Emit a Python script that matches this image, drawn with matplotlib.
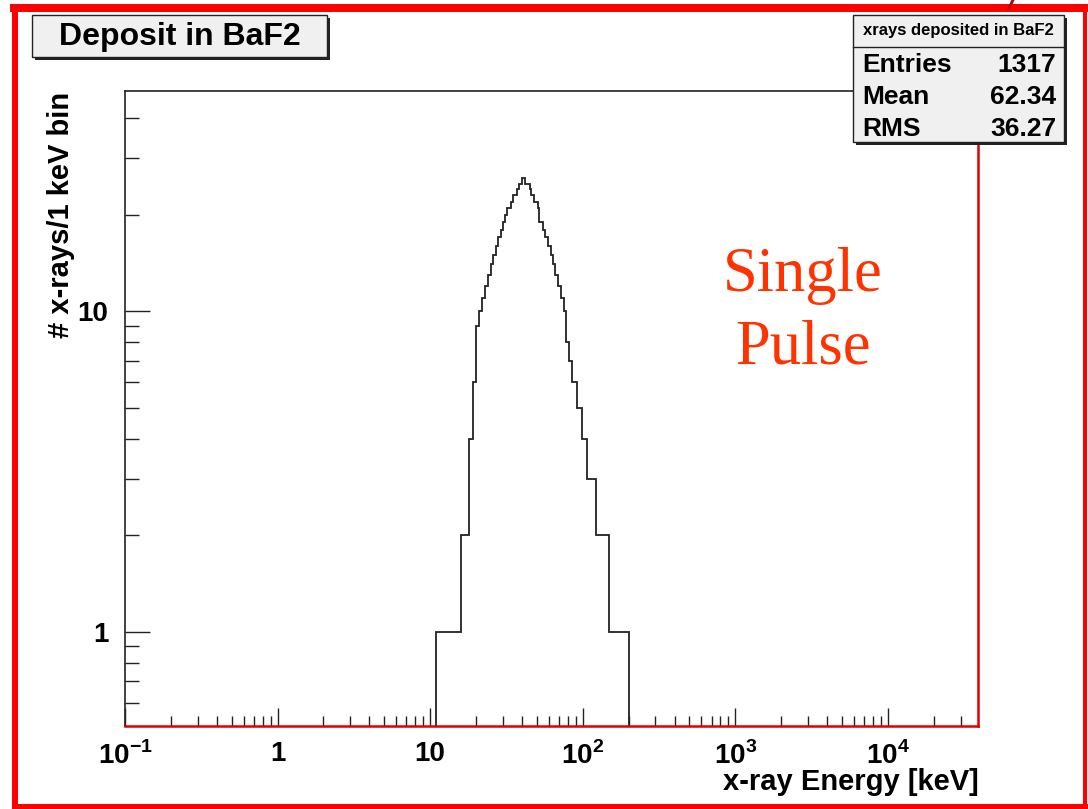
import numpy as np
import matplotlib
matplotlib.use('Agg')
import matplotlib.pyplot as plt
from matplotlib.patches import Rectangle
from matplotlib.ticker import LogLocator, FixedLocator, FixedFormatter, NullFormatter

plt.rcParams['font.family'] = ['Liberation Sans', 'DejaVu Sans']
plt.rcParams['mathtext.fontset'] = 'custom'
plt.rcParams['mathtext.rm'] = 'Liberation Sans:bold'
plt.rcParams['mathtext.bf'] = 'Liberation Sans:bold'

# histogram (bin edges in keV, counts per bin)
edges = [11, 16, 18, 19, 20, 21, 22, 23, 24, 25, 26, 27, 28, 29, 30, 31, 32, 34, 35, 37,
         38, 40, 42, 45, 46, 48, 51, 52, 55, 57, 59, 62, 64, 66, 69, 72, 75, 78, 81, 85,
         92, 99, 106, 123, 148, 202]
counts = [1, 2, 4, 6, 9, 10, 11, 12, 13, 14, 15, 16, 17, 18, 19, 20, 21, 22, 23, 24,
          25, 26, 25, 24, 23, 22, 21, 19, 18, 17, 16, 15, 14, 13, 12, 11, 10, 8, 7, 6,
          5, 4, 3, 2, 1]

x_ticks = [0.1, 1, 10, 100, 1000, 10000]
x_labels = [r'$10^{-1}$', '1', '10', r'$10^{2}$', r'$10^{3}$', r'$10^{4}$']
y_ticks = [1, 10]
y_labels = ['1', '10']

stat_names = ['Entries', 'Mean', 'RMS']
stat_values = ['1317', '62.34', '36.27']

W, H = 1088, 809
fig = plt.figure(figsize=(W / 100, H / 100), dpi=100)


def fx(x):
    return x / W


def fy(y):
    return 1 - y / H


# plot frame
ax = fig.add_axes([fx(125), fy(726), fx(978) - fx(125), fy(91) - fy(726)])
ax.set_xscale('log')
ax.set_yscale('log')
ax.set_xlim(0.1, 3.9e4)
ax.set_ylim(0.508, 48.7)

ax.stairs(counts, edges, baseline=0.01, color='#222222', linewidth=1.3)

ax.xaxis.set_major_locator(FixedLocator(x_ticks))
ax.xaxis.set_major_formatter(FixedFormatter(x_labels))
ax.xaxis.set_minor_locator(LogLocator(base=10, subs=np.arange(2, 10), numticks=20))
ax.xaxis.set_minor_formatter(NullFormatter())
ax.yaxis.set_major_locator(FixedLocator(y_ticks))
ax.yaxis.set_major_formatter(FixedFormatter(y_labels))
ax.yaxis.set_minor_locator(LogLocator(base=10, subs=np.arange(2, 10), numticks=20))
ax.yaxis.set_minor_formatter(NullFormatter())

ax.tick_params(axis='x', which='major', direction='in', length=13, width=1, color='#222222',
               labelsize=20, pad=11)
ax.tick_params(axis='x', which='minor', direction='in', length=7, width=1, color='#222222')
ax.tick_params(axis='y', which='major', direction='in', length=18, width=1, color='#222222',
               labelsize=20, pad=12)
ax.tick_params(axis='y', which='minor', direction='in', length=10, width=1, color='#222222')
for lab in ax.get_xticklabels() + ax.get_yticklabels():
    lab.set_fontweight('bold')

for s in ['top', 'left']:
    ax.spines[s].set_color('#222222')
    ax.spines[s].set_linewidth(1.2)
for s in ['bottom', 'right']:
    ax.spines[s].set_color('#e00000')
    ax.spines[s].set_linewidth(1.8)

fig.text(fx(979), fy(782), 'x-ray Energy [keV]', ha='right', va='center',
         fontsize=21, fontweight='bold')
fig.text(fx(61), fy(215), '# x-rays/1 keV bin', ha='center', va='center',
         rotation=90, fontsize=21, fontweight='bold')

fig.text(fx(803), fy(312), 'Single\nPulse', ha='center', va='center', color='#ff3300',
         fontsize=45, family=['Liberation Serif', 'DejaVu Serif'], linespacing=1.32)

# title box
fig.patches.append(Rectangle((fx(35), fy(60)), fx(295), fy(15) - fy(57),
                             transform=fig.transFigure, facecolor='#222222', edgecolor='none'))
fig.patches.append(Rectangle((fx(32), fy(57)), fx(295), fy(15) - fy(57),
                             transform=fig.transFigure, facecolor='#f0f0f0',
                             edgecolor='#222222', linewidth=1))
fig.text(fx(179.5), fy(37), 'Deposit in BaF2', ha='center', va='center',
         fontsize=23, fontweight='bold')

# stats box
fig.patches.append(Rectangle((fx(856), fy(145)), fx(211), fy(15) - fy(142),
                             transform=fig.transFigure, facecolor='#222222', edgecolor='none'))
fig.patches.append(Rectangle((fx(853), fy(142)), fx(211), fy(15) - fy(142),
                             transform=fig.transFigure, facecolor='#f0f0f0',
                             edgecolor='#222222', linewidth=1))
fig.add_artist(plt.Line2D([fx(853), fx(1064)], [fy(47), fy(47)], color='#222222',
                          linewidth=1, transform=fig.transFigure))
fig.text(fx(958), fy(31), 'xrays deposited in BaF2', ha='center', va='center',
         fontsize=12, fontweight='bold')
for i, (name, val) in enumerate(zip(stat_names, stat_values)):
    yy = fy(65 + 32 * i)
    fig.text(fx(862), yy, name, ha='left', va='center', fontsize=19, fontweight='bold')
    fig.text(fx(1056), yy, val, ha='right', va='center', fontsize=19, fontweight='bold')

# red slide frame
red = '#ff0000'
fig.patches.append(Rectangle((fx(10), fy(12)), fx(1078), fy(4) - fy(12),
                             transform=fig.transFigure, facecolor=red, edgecolor='none'))
fig.patches.append(Rectangle((fx(12), fy(806)), fx(6), fy(4) - fy(806),
                             transform=fig.transFigure, facecolor=red, edgecolor='none'))
fig.patches.append(Rectangle((fx(12), fy(809)), fx(1076), fy(804) - fy(809),
                             transform=fig.transFigure, facecolor=red, edgecolor='none'))
fig.patches.append(Rectangle((fx(1083), fy(809)), fx(4), fy(4) - fy(809),
                             transform=fig.transFigure, facecolor=red, edgecolor='none'))
fig.add_artist(plt.Line2D([fx(1009), fx(1013)], [fy(8), fy(0)], color='#b00000',
                          linewidth=2, transform=fig.transFigure))

fig.savefig('out.png', dpi=100)
